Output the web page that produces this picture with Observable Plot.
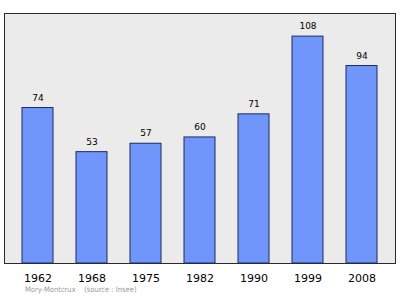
<!DOCTYPE html>
<html>
<head>
<meta charset="utf-8">
<script src="https://cdn.jsdelivr.net/npm/d3@7"></script>
<script src="https://cdn.jsdelivr.net/npm/@observablehq/plot@0.6"></script>
<style>
  html, body { margin: 0; padding: 0; background: #fff; }
  #chart { width: 400px; }
  #chart svg { display: block; }
  #caption { padding-left: 25px; height: 12px; font: 7.5px/10px "DejaVu Sans Condensed", "DejaVu Sans", sans-serif; color: #9a9a9a; white-space: pre; }
</style>
</head>
<body>
<div id="chart"></div>
<script>
const years = ["1962", "1968", "1975", "1982", "1990", "1999", "2008"];
const population = [74, 53, 57, 60, 71, 108, 94];
const captionText = "Mory-Montcrux    (source : Insee)";

const data = years.map((y, i) => ({year: y, value: population[i]}));

const plot = Plot.plot({
  width: 400,
  height: 285,
  marginTop: 13,
  marginBottom: 22,
  marginLeft: 4,
  marginRight: 5,
  style: {fontFamily: "DejaVu Sans", background: "transparent"},
  x: {domain: years, paddingInner: 0.43, paddingOuter: 0.31, label: null},
  y: {domain: [0, 119], axis: null},
  marks: [
    Plot.frame({fill: "#ebebeb", stroke: "#2a2a2a", strokeWidth: 1}),
    Plot.barY(data, {x: "year", y: "value", fill: "#7095fb", stroke: "#1c2b5e", strokeWidth: 1}),
    Plot.text(data, {x: "year", y: "value", text: d => String(d.value), lineAnchor: "bottom", dy: -7.5, fontSize: 9, fill: "#000"}),
    Plot.axisX({tickSize: 0, tickPadding: 11, fontSize: 11, label: null, color: "#000"})
  ]
});
const chart = document.getElementById("chart");
chart.appendChild(plot);
const cap = document.createElement("div");
cap.id = "caption";
cap.textContent = captionText;
chart.appendChild(cap);
</script>
</body>
</html>
